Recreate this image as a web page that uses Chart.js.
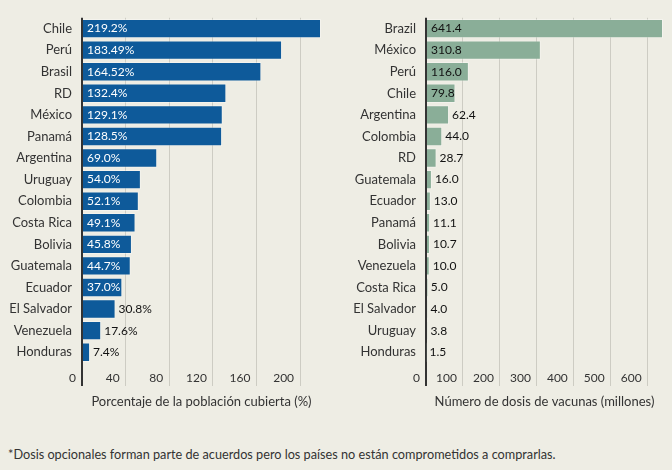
<!DOCTYPE html>
<html>
<head>
<meta charset="utf-8">
<script src="https://cdn.jsdelivr.net/npm/chart.js@4"></script>
<style>
body { margin: 0; background: #eeede4; width: 672px; height: 470px; position: relative; overflow: hidden; font-family: Lato, sans-serif; }
.box { position: absolute; top: 0; width: 336px; height: 420px; }
#note { position: absolute; left: 8px; top: 446px; font-size: 12.7px; color: #333; white-space: nowrap; }
</style>
</head>
<body>
<div class="box" style="left:0"><canvas id="coverChart"></canvas></div>
<div class="box" style="left:336px"><canvas id="doseChart"></canvas></div>
<div id="note">*Dosis opcionales forman parte de acuerdos pero los países no están comprometidos a comprarlas.</div>
<script>
// Coverage (% of population)
const coverCountries = ['Chile', 'Perú', 'Brasil', 'RD', 'México', 'Panamá', 'Argentina', 'Uruguay',
  'Colombia', 'Costa Rica', 'Bolivia', 'Guatemala', 'Ecuador', 'El Salvador', 'Venezuela', 'Honduras'];
const coverValues = [219.2, 183.49, 164.52, 132.4, 129.1, 128.5, 69.0, 54.0,
  52.1, 49.1, 45.8, 44.7, 37.0, 30.8, 17.6, 7.4];

// Vaccine doses (millions)
const doseCountries = ['Brazil', 'México', 'Perú', 'Chile', 'Argentina', 'Colombia', 'RD', 'Guatemala',
  'Ecuador', 'Panamá', 'Bolivia', 'Venezuela', 'Costa Rica', 'El Salvador', 'Uruguay', 'Honduras'];
const doseValues = [641.4, 310.8, 116.0, 79.8, 62.4, 44.0, 28.7, 16.0,
  13.0, 11.1, 10.7, 10.0, 5.0, 4.0, 3.8, 1.5];

const textColor = '#333';
Chart.defaults.font.family = 'Lato, sans-serif';
Chart.defaults.font.size = 12;

// value labels: inside the bar when they fit, else just after it
const valueLabels = {
  id: 'valueLabels',
  afterDatasetsDraw(chart, args, opts) {
    const ctx = chart.ctx;
    const data = chart.data.datasets[0].data;
    ctx.save();
    ctx.font = '12px Lato, sans-serif';
    ctx.textBaseline = 'middle';
    chart.getDatasetMeta(0).data.forEach((bar, i) => {
      const text = opts.format(data[i]);
      const w = ctx.measureText(text).width;
      if (w + 4 <= bar.x - bar.base) {
        ctx.fillStyle = opts.inside;
        ctx.fillText(text, bar.base + 4, bar.y);
      } else {
        ctx.fillStyle = '#111';
        ctx.fillText(text, bar.x + 3, bar.y);
      }
    });
    ctx.restore();
  }
};

function xAxis(maxVal, step, title) {
  return {
    min: 0,
    max: maxVal,
    ticks: {
      stepSize: step,
      includeBounds: false,
      align: 'end',
      padding: -15,
      color: textColor,
      callback: v => v + '\u2002'
    },
    grid: {
      color: c => (c.tick && c.tick.value === 0) ? '#333' : '#cdccc3',
      lineWidth: c => (c.tick && c.tick.value === 0) ? 2 : 1,
      tickLength: 23
    },
    border: { display: false },
    title: { display: true, text: title, color: textColor, font: { size: 13 }, padding: { top: 0, bottom: 10 } },
    afterFit: s => { s.height = 57; }
  };
}

function yAxis(width) {
  return {
    grid: { display: false, drawTicks: false },
    border: { display: false },
    ticks: { color: textColor, font: { size: 13 }, padding: 10, autoSkip: false },
    afterFit: s => { s.width = width; }
  };
}

function makeChart(id, labels, values, color, inside, format, step, title, yWidth, rightPad) {
  return new Chart(document.getElementById(id), {
    type: 'bar',
    data: {
      labels: labels,
      datasets: [{
        data: values,
        backgroundColor: color,
        borderColor: 'rgba(255,255,255,0.35)',
        borderWidth: 1,
        categoryPercentage: 1,
        barPercentage: 0.9
      }]
    },
    options: {
      indexAxis: 'y',
      responsive: true,
      maintainAspectRatio: false,
      animation: false,
      layout: { padding: { top: 15, right: rightPad, left: 0, bottom: 0 } },
      scales: {
        x: xAxis(Math.max(...values), step, title),
        y: yAxis(yWidth)
      },
      plugins: {
        legend: { display: false },
        tooltip: { enabled: false },
        valueLabels: { inside: inside, format: format }
      }
    },
    plugins: [valueLabels]
  });
}

const pctFormat = v => {
  const dec = (String(v).split('.')[1] || '').length;
  return v.toFixed(dec >= 2 ? 2 : 1) + '%';
};

makeChart('coverChart', coverCountries, coverValues, '#0e5a9a', '#fff', pctFormat, 40,
  'Porcentaje de la población cubierta (%)', 82, 15);
makeChart('doseChart', doseCountries, doseValues, '#8aae98', '#111', v => v.toFixed(1), 100,
  'Número de dosis de vacunas (millones)', 90, 9);
</script>
</body>
</html>
